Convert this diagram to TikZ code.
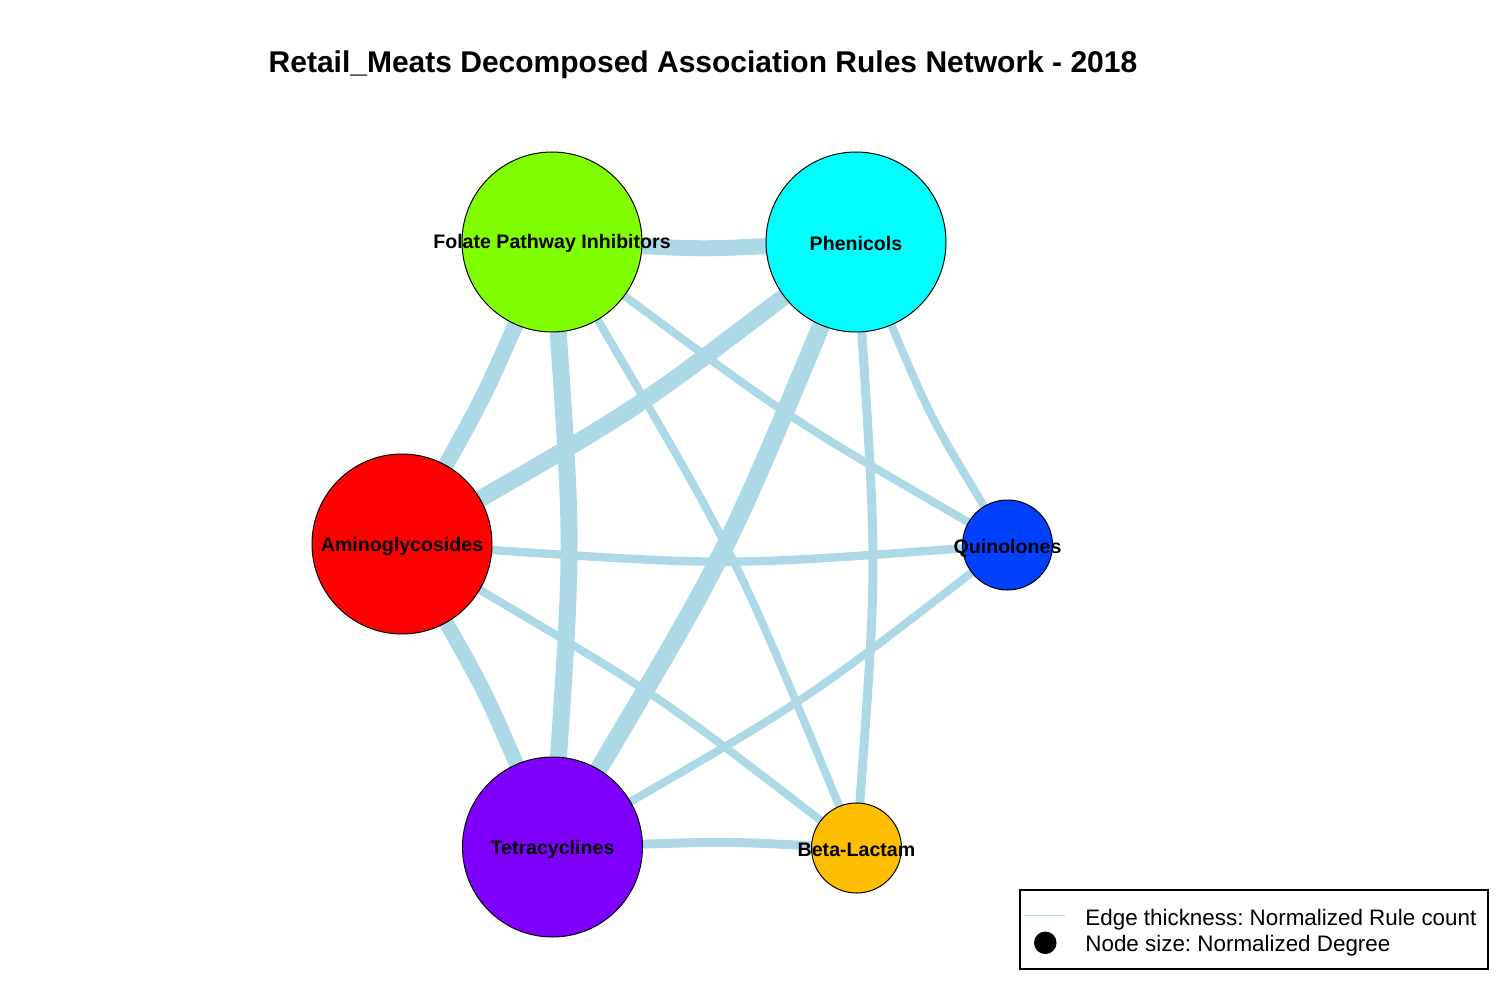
\documentclass[tikz,border=0pt]{standalone}
\usepackage{fontspec}
\setmainfont{Liberation Sans}
\frenchspacing
\usetikzlibrary{backgrounds}
\definecolor{edgeblue}{HTML}{ADD8E6}
\definecolor{cF}{HTML}{80FF00}
\definecolor{cP}{HTML}{00FFFF}
\definecolor{cA}{HTML}{FF0000}
\definecolor{cQ}{HTML}{0040FF}
\definecolor{cT}{HTML}{8000FF}
\definecolor{cB}{HTML}{FFBF00}
\begin{document}
\begin{tikzpicture}[x=0.5pt,y=-0.5pt,
  vbig/.style={circle,draw=black,line width=0.5pt,inner sep=0pt,outer sep=0pt,minimum size=90pt},
  vsmall/.style={vbig,minimum size=45pt},
  vlabel/.style={inner sep=0pt,outer sep=0pt,font=\bfseries\fontsize{9.8}{11}\selectfont,text height=7pt,text depth=0pt},
  rel/.style={draw=edgeblue,line width=#1},
  rel/.default=4pt,
  legtext/.style={anchor=base west,inner sep=0pt,font=\fontsize{11.2}{13}\selectfont}]
\useasboundingbox (0,0) rectangle (1500,1000);

% title
\node[anchor=base,inner sep=0pt,font=\bfseries\fontsize{15}{18}\selectfont] (title) at (703,72.7)
  {Retail\_Meats Decomposed Association Rules Network - 2018};

% vertices
\node[vbig,fill=cF] (F) at (552,242) {};
\node[vbig,fill=cP] (P) at (856,242) {};
\node[vbig,fill=cA] (A) at (402,544) {};
\node[vsmall,fill=cQ] (Q) at (1007.5,545) {};
\node[vbig,fill=cT] (T) at (552.5,847) {};
\node[vsmall,fill=cB] (B) at (856.5,848) {};

% vertex labels
\node[vlabel] (Fl) at (F.center) {Folate Pathway Inhibitors};
\node[vlabel] (Pl) at ([yshift=-1pt]P.center) {Phenicols};
\node[vlabel] (Al) at (A.center) {Aminoglycosides};
\node[vlabel] (Ql) at ([yshift=-0.5pt]Q.center) {Quinolones};
\node[vlabel] (Tl) at (T.center) {Tetracyclines};
\node[vlabel] (Bl) at ([yshift=-0.5pt]B.center) {Beta-Lactam};

% edges
\begin{pgfonlayer}{background}
\draw[rel=8pt]   (F) .. controls (704,249) .. (P);
\draw[rel=8pt]   (F) .. controls (484,396.4) .. (A);
\draw[rel=8.5pt] (F) .. controls (572.7,544.5) .. (T);
\draw[rel]       (F) .. controls (789.7,418.7) .. (Q);
\draw[rel]       (F) .. controls (735.5,554.3) .. (B);
\draw[rel=8.5pt] (P) .. controls (638.6,407.4) .. (A);
\draw[rel=9pt]   (P) .. controls (725.4,555.3) .. (T);
\draw[rel]       (P) .. controls (931.2,418.8) .. (Q);
\draw[rel=4.5pt] (P) .. controls (877,567.5) .. (B);
\draw[rel=4.2pt] (A) .. controls (727,565.8) .. (Q);
\draw[rel=7.5pt] (A) .. controls (485,691.5) .. (T);
\draw[rel]       (A) .. controls (657.3,694.6) .. (B);
\draw[rel]       (T) .. controls (808.3,698.6) .. (Q);
\draw[rel=4.5pt] (T) .. controls (726.8,841.5) .. (B);
\end{pgfonlayer}

% legend
\node[draw=black,line width=1.2pt,minimum width=234pt,minimum height=39.5pt,inner sep=0pt,outer sep=0pt] (legend) at (1254,929.5) {};
\coordinate (ls) at (1025,915);
\coordinate (le) at (1065,915);
\draw[edgeblue,line width=0.5pt] (ls) -- (le);
\node[circle,fill=black,minimum size=11.25pt,inner sep=0pt] (ldot) at (1045.3,942.8) {};
\node[legtext] (lt1) at (1085,925) {Edge thickness: Normalized Rule count};
\node[legtext] (lt2) at (1085,951.7) {Node size: Normalized Degree};
\end{tikzpicture}
\end{document}
